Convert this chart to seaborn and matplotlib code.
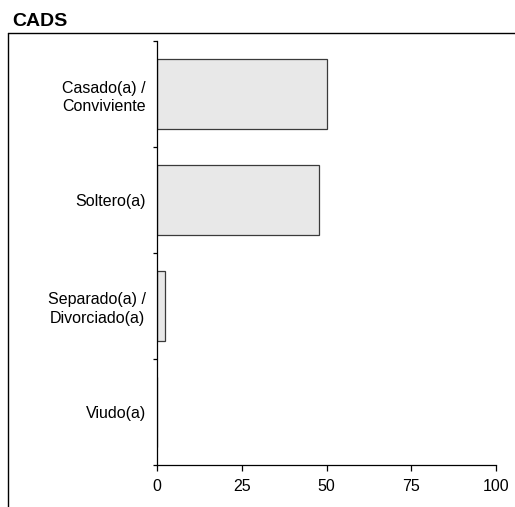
import matplotlib
matplotlib.use('Agg')
import matplotlib.pyplot as plt
import seaborn as sns
import pandas as pd
from matplotlib.lines import Line2D

# Data
categorias = ['Casado(a) /\nConviviente', 'Soltero(a)', 'Separado(a) /\nDivorciado(a)', 'Viudo(a)']
porcentajes = [50.0, 47.8, 2.4, 0.0]
xticks = [0, 25, 50, 75, 100]

df = pd.DataFrame({'categoria': categorias, 'pct': porcentajes})

sns.set_style('white')
plt.rcParams['font.family'] = ['Liberation Sans', 'DejaVu Sans']
plt.rcParams['text.color'] = 'black'
plt.rcParams['xtick.color'] = 'black'
plt.rcParams['ytick.color'] = 'black'

fig = plt.figure(figsize=(5.15, 5.07), dpi=100)
ax = fig.add_axes([0.305, 0.083, 0.658, 0.836])

sns.barplot(data=df, x='pct', y='categoria', orient='h', color='#e8e8e8',
            edgecolor='#3a3a3a', linewidth=0.9, width=0.66, saturation=1, ax=ax)

ax.set_xlim(0, 100)
ax.set_ylim(len(categorias) - 0.5, -0.5)
ax.set_xticks(xticks)
ax.set_xticklabels([str(t) for t in xticks], fontsize=11.5, color='black')

# boundary ticks (major, no labels) and labels at category centres (minor)
ax.set_yticks([i - 0.5 for i in range(len(categorias) + 1)])
ax.set_yticklabels([])
ax.set_yticks(range(len(categorias)), minor=True)
ax.set_yticklabels(categorias, minor=True, fontsize=11.5, color='black',
                   multialignment='center', linespacing=1.3)
ax.tick_params(axis='y', which='minor', length=0, pad=8)
ax.tick_params(axis='y', which='major', length=3, width=0.9, color='black', left=True)
ax.tick_params(axis='x', length=4, width=0.9, color='black', pad=6, bottom=True)

ax.set_xlabel('')
ax.set_ylabel('')
sns.despine(ax=ax)
for s in ['left', 'bottom']:
    ax.spines[s].set_color('black')
    ax.spines[s].set_linewidth(0.9)

# panel frame and title
fig.add_artist(Line2D([8 / 515, 1], [1 - 33 / 507, 1 - 33 / 507], color='black', lw=1, transform=fig.transFigure))
fig.add_artist(Line2D([8 / 515, 8 / 515], [0, 1 - 33 / 507], color='black', lw=1, transform=fig.transFigure))
fig.text(12 / 515, 1 - 21 / 507, 'CADS', fontsize=14, fontweight='bold', va='center', ha='left', color='black')

fig.savefig('out.png', dpi=100)
